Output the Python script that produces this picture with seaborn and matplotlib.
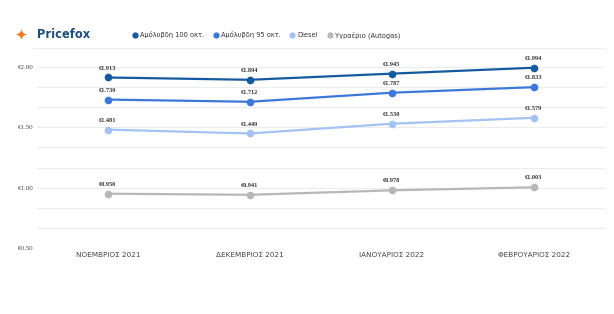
import matplotlib
matplotlib.use("Agg")
import matplotlib.pyplot as plt
import seaborn as sns
import pandas as pd
import numpy as np
from matplotlib.lines import Line2D

months = ["ΝΟΕΜΒΡΙΟΣ 2021", "ΔΕΚΕΜΒΡΙΟΣ 2021", "ΙΑΝΟΥΑΡΙΟΣ 2022", "ΦΕΒΡΟΥΑΡΙΟΣ 2022"]
series_names = ["Αμόλυβδη 100 οκτ.", "Αμόλυβδη 95 οκτ.", "Diesel", "Υγραέριο (Autogas)"]
unl100 = [1.913, 1.894, 1.945, 1.994]
unl95 = [1.730, 1.712, 1.787, 1.833]
diesel = [1.481, 1.449, 1.530, 1.579]
autogas = [0.950, 0.941, 0.978, 1.003]
colors = ["#155a9e", "#3c78d8", "#a4c2f4", "#b7b7b7"]
ytick_vals = [0.5, 1.0, 1.5, 2.0]

rows = []
for name, vals in zip(series_names, [unl100, unl95, diesel, autogas]):
    for i, (m, v) in enumerate(zip(months, vals)):
        rows.append({"month": m, "x": i, "price": v, "fuel": name})
df = pd.DataFrame(rows)

sns.set_theme(style="white")
plt.rcParams['font.family'] = ['DejaVu Sans']

fig = plt.figure(figsize=(6.14, 3.14), dpi=100)
ax = fig.add_axes([37/614, 66/314, 568/614, 181/314])

pal = dict(zip(series_names, colors))
sns.lineplot(data=df, x="x", y="price", hue="fuel", palette=pal, marker="o",
             markersize=5.5, markeredgewidth=0, linewidth=1.6, ax=ax, legend=False,
             clip_on=False)

# gridlines
minor = np.arange(0.5, 2.0001, 0.5/3)
for yv in minor:
    ax.axhline(yv, color="#ececec", linewidth=0.8, zorder=0)
ax.set_ylim(0.5, 2.0)
ax.set_xlim(-0.5, 3.5)
ax.set_yticks(ytick_vals)
ax.set_yticklabels([f"€{v:.2f}" for v in ytick_vals], fontsize=5, color="#444444",
                   family="Liberation Serif")
ax.set_xticks(range(len(months)))
ax.set_xticklabels(months, fontsize=5.2, color="#444444")
ax.tick_params(axis="both", length=0, pad=3)
ax.tick_params(axis="y", pad=14)
for yl in ax.get_yticklabels():
    yl.set_horizontalalignment("left")
ax.set_xlabel("")
ax.set_ylabel("")
for s in ax.spines.values():
    s.set_visible(False)

# data labels
for name, vals in zip(series_names, [unl100, unl95, diesel, autogas]):
    for i, v in enumerate(vals):
        ax.annotate(f"€{v:.3f}", (i, v), xytext=(0, 5), textcoords="offset points",
                    ha="center", va="bottom", fontsize=4.5, color="#333333",
                    family="Liberation Serif", fontweight="bold", annotation_clip=False)

# header
fig.text(14/614, 1 - 35/314, "✦", fontsize=11, color="#f07b22", va="center", ha="left")
fig.text(37/614, 1 - 35/314, "Pricefox", fontsize=8.3, fontweight="bold", color="#1d4f7c",
         va="center", ha="left")
fig.add_artist(Line2D([33/614, 605/614], [1 - 48/314, 1 - 48/314], color="#eeeeee", linewidth=0.8))

handles = [Line2D([], [], marker="o", linestyle="", color=c, markersize=3.5) for c in colors]
fig.legend(handles, series_names, loc="center", bbox_to_anchor=(266/614, 1 - 35/314),
           ncol=4, frameon=False, fontsize=4.8, handletextpad=0.3, columnspacing=1.2,
           handlelength=1.0, labelcolor="#333333")

fig.savefig("out.png", dpi=100, facecolor="white")
